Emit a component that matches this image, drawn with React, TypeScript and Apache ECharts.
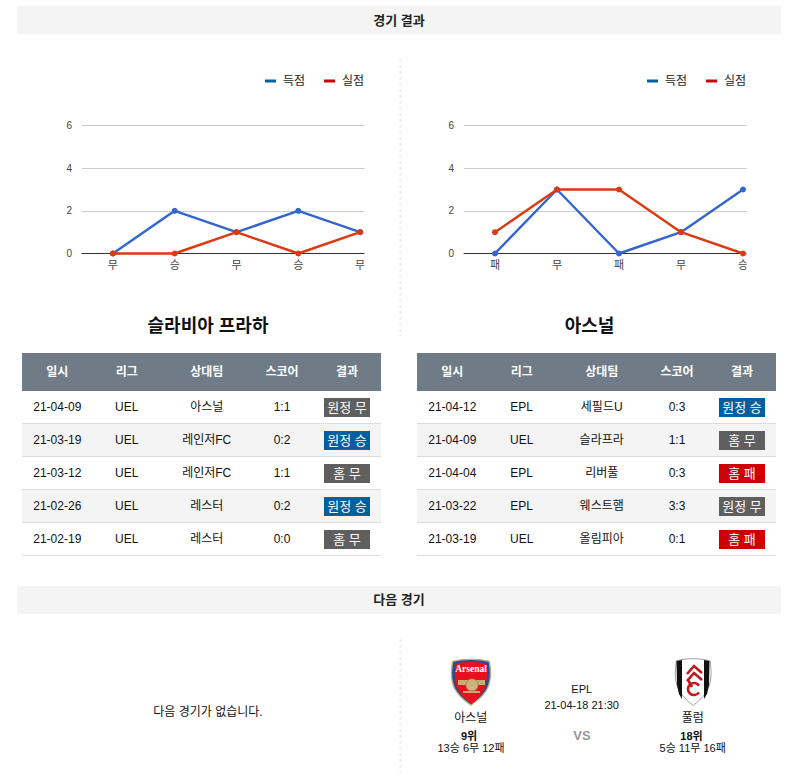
import React, { useEffect, useRef } from "react";
import * as echarts from "echarts";

const FONT = '"Liberation Sans", Arial, "Noto Sans CJK KR", sans-serif';

const sectionTitles = ["경기 결과", "다음 경기"];
const seriesNames = ["득점", "실점"];
const yTicksMax = 6;

const leftResults = ["무", "승", "무", "승", "무"];
const leftScored = [0, 2, 1, 2, 1];
const leftConceded = [0, 0, 1, 0, 1];

const rightResults = ["패", "무", "패", "무", "승"];
const rightScored = [0, 3, 0, 1, 3];
const rightConceded = [1, 3, 3, 1, 0];

const tableHeaders = ["일시", "리그", "상대팀", "스코어", "결과"];

const leftTeamName = "슬라비아 프라하";
const leftRows = [
  ["21-04-09", "UEL", "아스널", "1:1", "원정 무"],
  ["21-03-19", "UEL", "레인저FC", "0:2", "원정 승"],
  ["21-03-12", "UEL", "레인저FC", "1:1", "홈 무"],
  ["21-02-26", "UEL", "레스터", "0:2", "원정 승"],
  ["21-02-19", "UEL", "레스터", "0:0", "홈 무"],
];

const rightTeamName = "아스널";
const rightRows = [
  ["21-04-12", "EPL", "세필드U", "0:3", "원정 승"],
  ["21-04-09", "UEL", "슬라프라", "1:1", "홈 무"],
  ["21-04-04", "EPL", "리버풀", "0:3", "홈 패"],
  ["21-03-22", "EPL", "웨스트햄", "3:3", "원정 무"],
  ["21-03-19", "UEL", "올림피아", "0:1", "홈 패"],
];

const noNextMatch = "다음 경기가 없습니다.";
const nextLeague = "EPL";
const nextDate = "21-04-18 21:30";
const nextVs = "VS";
const nextHome = ["아스널", "9위", "13승 6무 12패"];
const nextAway = ["풀럼", "18위", "5승 11무 16패"];

echarts.graphic.registerShape(
  "shield",
  echarts.graphic.extendPath(
    "M1 3 C10 0 30 0 39 3 C41 14 41 26 35 34 C30 41 24 45 20 48 C16 45 10 41 5 34 C-1 26 -1 14 1 3 Z",
    {}
  )
);

const BLUE_LEGEND = "#00609f";
const RED_LEGEND = "#cc0000";
const BLUE_LINE = "#3366cc";
const RED_LINE = "#dc3912";

function txt(text: string, x: number, y: number, size: number, fill = "#111", weight: any = "normal", family = FONT) {
  return {
    type: "text",
    z: 50,
    style: { text, x, y, fill, fontSize: size, fontFamily: family, fontWeight: weight, align: "center", verticalAlign: "middle" },
  };
}

function rect(x: number, y: number, width: number, height: number, fill: string, z = 40) {
  return { type: "rect", z, shape: { x, y, width, height }, style: { fill } };
}

function dashed(x: number, y1: number, y2: number) {
  return {
    type: "line",
    z: 40,
    shape: { x1: x, y1, x2: x, y2 },
    style: { stroke: "#eeeeee", lineWidth: 2, lineDash: [3, 3] },
  };
}

function badgeColor(result: string) {
  if (result.endsWith("승")) return "#00609f";
  if (result.endsWith("패")) return "#cc0000";
  return "#5f5f5f";
}

function table(left: number, rows: string[][]) {
  const centers = [35.3, 104.7, 184.7, 260, 325];
  const out: any[] = [rect(left, 353, 359, 38, "#6f7c87")];
  tableHeaders.forEach((h, i) => out.push(txt(h, left + centers[i], 371.5, 12, "#ffffff", "bold")));
  rows.forEach((row, r) => {
    const top = 391 + r * 33;
    if (r % 2 === 1) out.push(rect(left, top, 359, 32, "#f4f4f4", 38));
    out.push(rect(left, top + 32, 359, 1, "#dddddd", 39));
    const cy = top + 16;
    row.slice(0, 4).forEach((c, i) => out.push(txt(c, left + centers[i], cy, 12, "#111")));
    out.push(rect(left + 302, top + 7, 46, 19, badgeColor(row[4])));
    out.push(txt(row[4], left + 325, cy, 13, "#ffffff"));
  });
  return out;
}

function arsenalCrest() {
  return [
    { type: "shield", z: 41, x: 451, y: 658, scaleX: 1, scaleY: 1, style: { fill: "#c8ad72" } },
    { type: "shield", z: 42, x: 452.4, y: 659.3, scaleX: 0.93, scaleY: 0.94, style: { fill: "#1d4f9e" } },
    { type: "shield", z: 43, x: 455, y: 661, scaleX: 0.8, scaleY: 0.9, style: { fill: "#e8101e" } },
    txt("Arsenal", 471, 668.5, 9.5, "#ffffff", "bold", '"Liberation Serif", serif'),
    rect(458, 680, 27, 5, "#c8ad72", 44),
    { type: "circle", z: 45, shape: { cx: 472, cy: 685, r: 6 }, style: { fill: "#cdb47e", stroke: "#a88d55", lineWidth: 1 } },
    rect(463, 691, 17, 2, "#c8ad72", 44),
  ];
}

function fulhamCrest() {
  const red = { stroke: "#c4161c", lineWidth: 2.6, fill: "none" };
  return [
    { type: "shield", z: 41, x: 675.5, y: 658, scaleX: 0.885, scaleY: 0.99, style: { fill: "#ffffff", stroke: "#9a9a9a", lineWidth: 1 } },
    { type: "polygon", z: 42, shape: { points: [[676.5, 661], [682, 660], [682, 699], [679, 694], [677, 685]] }, style: { fill: "#111111" } },
    { type: "polygon", z: 42, shape: { points: [[709.5, 661], [704, 660], [704, 699], [707, 694], [709, 685]] }, style: { fill: "#111111" } },
    { type: "polyline", z: 43, shape: { points: [[687, 674], [694, 666], [702, 673]] }, style: red },
    { type: "polyline", z: 43, shape: { points: [[687, 681], [694, 673], [702, 680]] }, style: red },
    { type: "polyline", z: 43, shape: { points: [[688, 680], [692, 687]] }, style: red },
    { type: "arc", z: 43, shape: { cx: 694, cy: 689, r: 6, startAngle: 0.6, endAngle: 5.7, clockwise: true }, style: { stroke: "#c4161c", lineWidth: 2.6, fill: "none" } },
  ];
}

function chartOption() {
  const axes = (idx: number, categories: string[]) => ({
    x: {
      type: "category",
      gridIndex: idx,
      data: categories,
      boundaryGap: true,
      axisTick: { show: false },
      axisLine: { show: true, lineStyle: { color: "#333333", width: 1 } },
      axisLabel: { interval: 0, color: "#444444", fontSize: 11, fontFamily: FONT, margin: 6 },
      splitLine: { show: false },
    },
    y: {
      type: "value",
      gridIndex: idx,
      min: 0,
      max: yTicksMax,
      interval: 2,
      axisLine: { show: false },
      axisTick: { show: false },
      axisLabel: { color: "#444444", fontSize: 10, fontFamily: FONT, margin: 10 },
      splitLine: { show: true, lineStyle: { color: "#cccccc", width: 1 } },
    },
  });
  const a = axes(0, leftResults);
  const b = axes(1, rightResults);
  const line = (name: string, data: number[], color: string, idx: number) => ({
    name,
    type: "line",
    xAxisIndex: idx,
    yAxisIndex: idx,
    data,
    color,
    symbol: "circle",
    symbolSize: 6,
    showSymbol: true,
    lineStyle: { color, width: 2.4 },
    itemStyle: { color },
    clip: false,
    animation: false,
  });
  const legend = (left: number) => ({
    left,
    top: 75,
    orient: "horizontal",
    itemWidth: 11,
    itemHeight: 3,
    itemGap: 19,
    padding: 0,
    icon: "rect",
    selectedMode: false,
    textStyle: { color: "#222222", fontSize: 12, fontFamily: FONT, padding: [0, 0, 0, 2] },
    data: [
      { name: seriesNames[0], itemStyle: { color: BLUE_LEGEND } },
      { name: seriesNames[1], itemStyle: { color: RED_LEGEND } },
    ],
  });
  return {
    animation: false,
    backgroundColor: "#ffffff",
    legend: [legend(265), legend(647)],
    grid: [
      { left: 82, top: 125.5, width: 309, height: 128 },
      { left: 464, top: 125.5, width: 310, height: 128 },
    ],
    xAxis: [a.x, b.x],
    yAxis: [a.y, b.y],
    series: [
      line(seriesNames[0], leftScored, BLUE_LINE, 0),
      line(seriesNames[1], leftConceded, RED_LINE, 0),
      line(seriesNames[0], rightScored, BLUE_LINE, 1),
      line(seriesNames[1], rightConceded, RED_LINE, 1),
    ],
    graphic: {
      elements: [
        rect(17, 6, 764, 28, "#f4f4f4"),
        txt(sectionTitles[0], 399, 20, 13, "#222", "bold"),
        rect(17, 586, 764, 28, "#f4f4f4"),
        txt(sectionTitles[1], 399, 599.5, 13, "#222", "bold"),
        dashed(400.5, 59, 336),
        dashed(400.5, 639, 773),
        // the chart panels end short of the last category band
        rect(364.5, 118, 33, 160, "#ffffff", 60),
        rect(746.5, 118, 40, 160, "#ffffff", 60),
        txt(leftTeamName, 208, 325.5, 18, "#111", "bold"),
        txt(rightTeamName, 589.5, 325.5, 18, "#111", "bold"),
        ...table(22, leftRows),
        ...table(417, rightRows),
        txt(noNextMatch, 208, 712, 12, "#111"),
        ...arsenalCrest(),
        ...fulhamCrest(),
        txt(nextLeague, 581.7, 689, 11, "#111"),
        txt(nextDate, 581.7, 705, 11, "#111"),
        txt(nextVs, 582, 735, 13, "#999999", "bold"),
        txt(nextHome[0], 470.7, 718, 12, "#111"),
        txt(nextHome[1], 469, 735.5, 11, "#111", "bold"),
        txt(nextHome[2], 471, 748, 11, "#111"),
        txt(nextAway[0], 692.7, 718, 12, "#111"),
        txt(nextAway[1], 691.5, 735.5, 11, "#111", "bold"),
        txt(nextAway[2], 692.7, 748, 11, "#111"),
      ],
    },
  };
}

export default function App() {
  const ref = useRef<HTMLDivElement | null>(null);
  useEffect(() => {
    const chart = echarts.init(ref.current as HTMLDivElement, undefined, { renderer: "svg" });
    chart.setOption(chartOption() as any);
    return () => chart.dispose();
  }, []);
  return <div ref={ref} style={{ position: "absolute", left: 0, top: 0, width: 794, height: 780 }} />;
}
